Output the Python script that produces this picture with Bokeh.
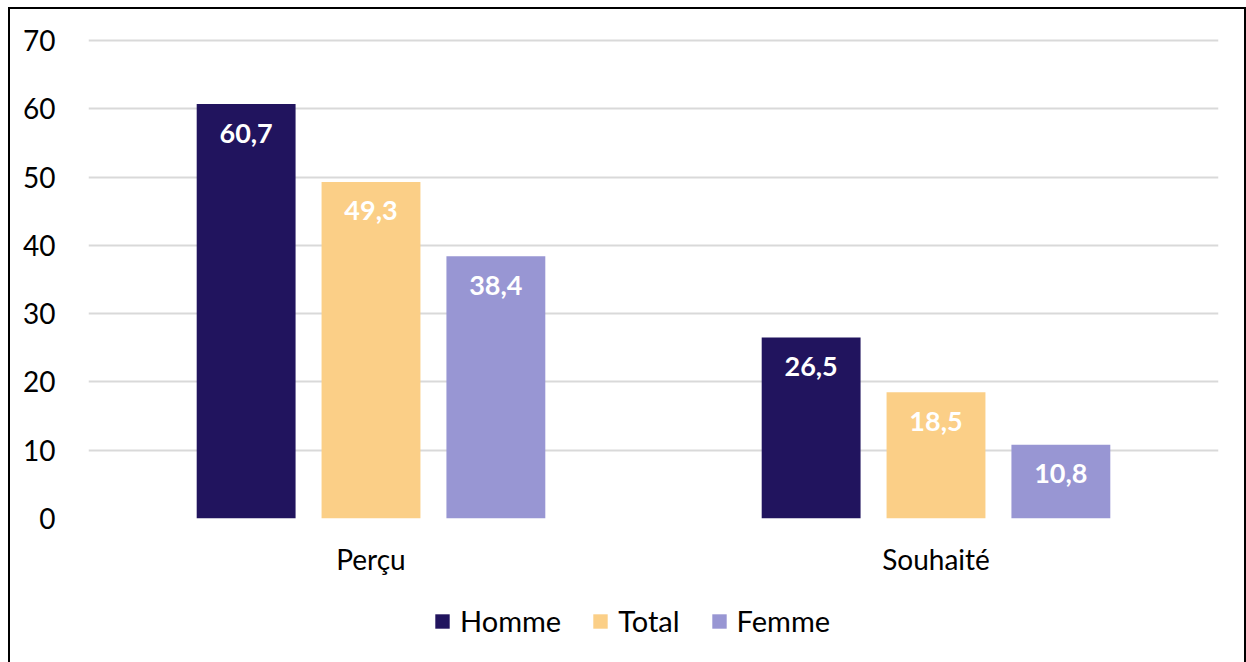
from bokeh.plotting import figure
from bokeh.layouts import column
from bokeh.models import ColumnDataSource, Legend, LegendItem, FixedTicker, Range1d, LabelSet
from bokeh.embed import file_html
from bokeh.resources import INLINE
from bokeh.core.properties import value

categories = ["Perçu", "Souhaité"]
series = ["Homme", "Total", "Femme"]
homme = [60.7, 26.5]
total = [49.3, 18.5]
femme = [38.4, 10.8]
colors = ["#21145E", "#FBCF87", "#9896D3"]
y_ticks = [0, 10, 20, 30, 40, 50, 60, 70]

FONT = "Lato"

p = figure(width=1234, height=580, output_backend="svg", toolbar_location=None,
           x_range=Range1d(0, 2), y_range=Range1d(0, 70.3),
           min_border_left=78, min_border_right=26, min_border_top=29, min_border_bottom=71)
p.outline_line_color = None
p.background_fill_color = "white"

centers = [0.5 + i for i in range(len(categories))]
offsets = [-0.221, 0.0, 0.221]
bar_w = 0.175
for vals, off, col, name in zip([homme, total, femme], offsets, colors, series):
    src = ColumnDataSource(dict(x=[c + off for c in centers], top=vals,
                                lab=[f"{v:.1f}".replace(".", ",") for v in vals]))
    p.vbar(x="x", top="top", width=bar_w, bottom=0, source=src, fill_color=col, line_color=None)
    p.add_layout(LabelSet(x="x", y="top", text="lab", source=src, y_offset=-29,
                          text_align="center", text_baseline="middle", text_color="white",
                          text_font=value(FONT), text_font_style="bold", text_font_size="27px"))

p.xaxis.ticker = FixedTicker(ticks=centers)
p.xaxis.major_label_overrides = {c: n for c, n in zip(centers, categories)}
p.yaxis.ticker = FixedTicker(ticks=y_ticks)
for ax in (p.xaxis, p.yaxis):
    ax.axis_line_color = None
    ax.major_tick_line_color = None
    ax.minor_tick_line_color = None
    ax.major_label_text_font = FONT
    ax.major_label_text_font_size = "28px"
    ax.major_label_text_color = "#000000"
p.xaxis.major_label_standoff = 17
p.yaxis.major_label_standoff = 27
p.xgrid.grid_line_color = None
p.ygrid.grid_line_color = "#D9D9D9"
p.ygrid.grid_line_width = 2
p.ygrid.ticker = FixedTicker(ticks=y_ticks)

# legend strip below the chart (its frame is aligned with the chart's frame by the column)
pl = figure(width=1234, height=75, output_backend="svg", toolbar_location=None,
            x_range=Range1d(0, 1), y_range=Range1d(0, 1),
            x_axis_type=None, y_axis_type=None,
            min_border=0, outline_line_color=None)
pl.grid.visible = False
lr = []
for col in colors:
    # zero-height swatch renderers: only their legend glyphs are visible
    lr.append(pl.vbar(x=[0.5], top=[0], bottom=0, width=0.0, fill_color=col, line_color=None))
legend = Legend(items=[LegendItem(label=n, renderers=[r]) for n, r in zip(series, lr)],
                orientation="horizontal", location=(345, 26),
                glyph_width=18, glyph_height=18, label_standoff=9, spacing=30,
                label_text_font=FONT, label_text_font_size="29px", label_text_color="#000000",
                border_line_color=None, background_fill_alpha=0, padding=0, margin=0)
pl.add_layout(legend, "center")

layout = column(p, pl, spacing=0)
layout.styles = {"border": "2px solid black", "margin-left": "8px", "margin-top": "7px"}

open("out.html", "w").write(file_html(layout, INLINE))
